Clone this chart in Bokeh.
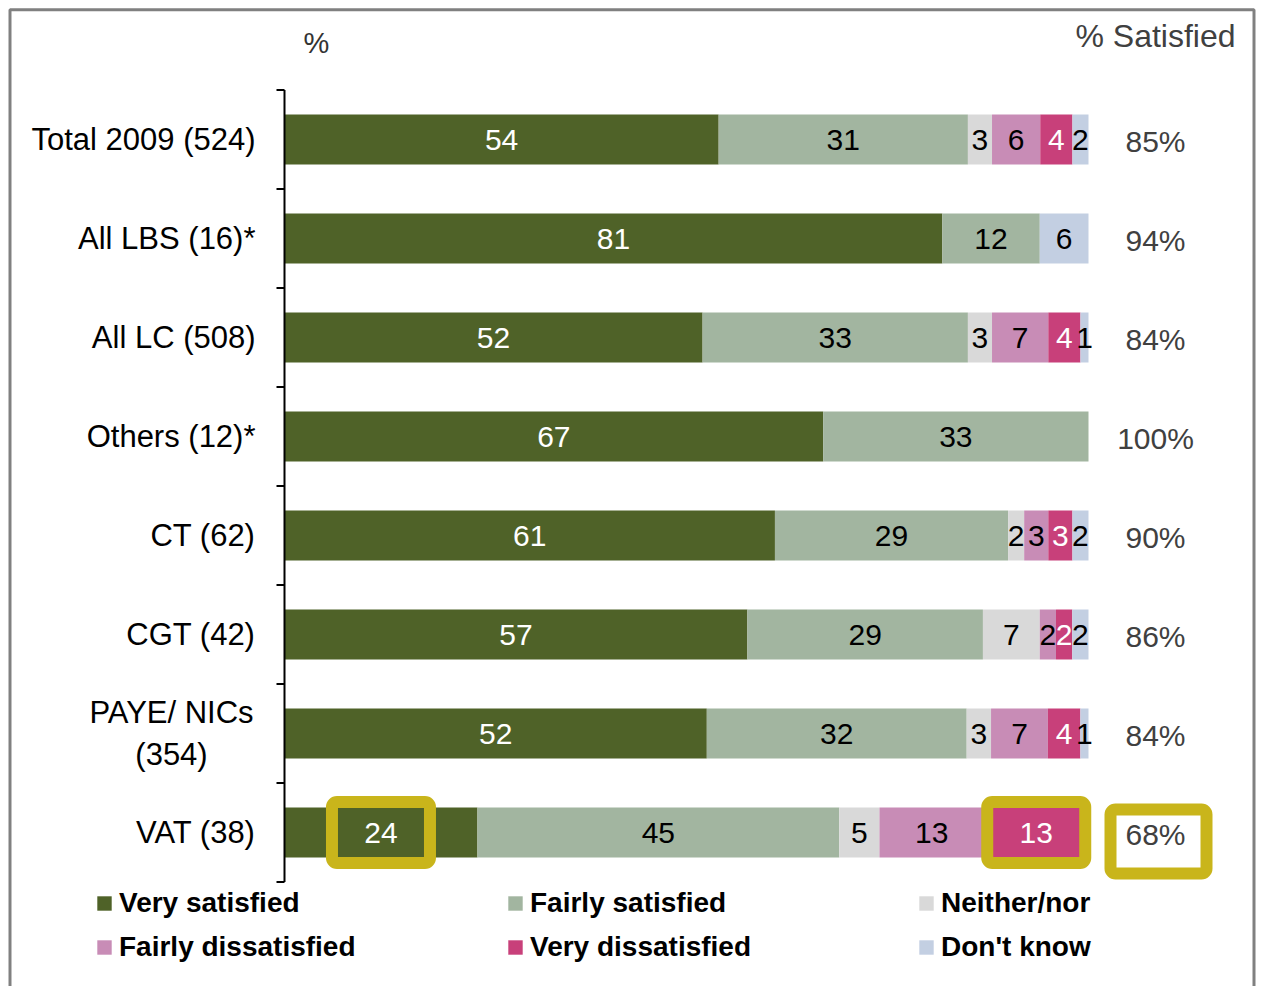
from bokeh.plotting import figure
from bokeh.models import Range1d, ColumnDataSource, Legend, LegendItem
from bokeh.core.properties import value
from bokeh.embed import file_html
from bokeh.resources import INLINE

# ---------------- data ----------------
categories = ["Total 2009 (524)", "All LBS (16)*", "All LC (508)", "Others (12)*",
              "CT (62)", "CGT (42)", "PAYE/ NICs\n(354)", "VAT (38)"]
very_satisfied = [54, 81, 52, 67, 61, 57, 52, 24]
fairly_satisfied = [31, 12, 33, 33, 29, 29, 32, 45]
neither_nor = [3, 0, 3, 0, 2, 7, 3, 5]
fairly_dissatisfied = [6, 0, 7, 0, 3, 2, 7, 13]
very_dissatisfied = [4, 0, 4, 0, 3, 2, 4, 13]
dont_know = [2, 6, 1, 0, 2, 2, 1, 0]
pct_satisfied = ["85%", "94%", "84%", "100%", "90%", "86%", "84%", "68%"]
series_names = ["Very satisfied", "Fairly satisfied", "Neither/nor",
                "Fairly dissatisfied", "Very dissatisfied", "Don't know"]
highlight_cells = [("VAT (38)", "Very satisfied"), ("VAT (38)", "Very dissatisfied")]
highlight_pct = ["VAT (38)"]

series_values = [very_satisfied, fairly_satisfied, neither_nor,
                 fairly_dissatisfied, very_dissatisfied, dont_know]

# ---------------- styles / layout ----------------
colors = ["#4F6228", "#A2B5A0", "#D9D9D9", "#C88CB6", "#C8407A", "#C3CFE2"]
label_colors = ["white", "black", "black", "black", "white", "black"]
FONT_NAME = "Liberation Sans"
FONT = value(FONT_NAME)
W, H = 1256, 986
AXIS_PX = 284      # left edge -> axis
FULL_PX = 804      # pixels for 100 %
ROW0_PX = 139      # top edge -> first row centre
ROW_PX = 99        # row pitch
BAR_PX = 50        # bar thickness
TICK_PX = 8
PCT_X_OFF = 67
PCT_Y_OFF = 2
HL_COLOR = "#C9B51B"
FRAME_L, FRAME_T, FRAME_R = 9.5, 9.3, 1253.5   # frame line centres (px)

px = FULL_PX / 100.0
n = len(categories)
ys = [-i for i in range(n)]

p = figure(width=W, height=H, output_backend="svg", toolbar_location=None,
           x_range=Range1d(-AXIS_PX / px, (W - AXIS_PX) / px),
           y_range=Range1d(-(H - ROW0_PX) / ROW_PX, ROW0_PX / ROW_PX),
           x_axis_type=None, y_axis_type=None, min_border=0)
p.grid.visible = False
p.outline_line_color = None
p.background_fill_color = "white"
p.border_fill_color = "white"

# stacked bars (each row normalised to 100)
totals = [sum(s[i] for s in series_values) for i in range(n)]
cum = [0.0] * n
legend_items = []
centers = {}
label_x, label_y, label_t, label_c = [], [], [], []
for k, (name, vals) in enumerate(zip(series_names, series_values)):
    left = [cum[i] for i in range(n)]
    right = [cum[i] + vals[i] * 100.0 / totals[i] for i in range(n)]
    cum = right
    src = ColumnDataSource(dict(y=ys, left=left, right=right))
    r = p.hbar(y="y", left="left", right="right", height=BAR_PX / ROW_PX,
               fill_color=colors[k], line_color=None, source=src)
    legend_items.append(LegendItem(label=name, renderers=[r]))
    for i in range(n):
        centers[(categories[i], name)] = ((left[i] + right[i]) / 2, ys[i])
        if vals[i] > 0:
            label_x.append((left[i] + right[i]) / 2)
            label_y.append(ys[i])
            label_t.append(str(vals[i]))
            label_c.append(label_colors[k])

# highlight boxes
for cat, ser in highlight_cells:
    cx, cy = centers[(cat, ser)]
    p.rect(x=[cx], y=[cy], width=98, height=61, width_units="screen", height_units="screen",
           fill_color=None, line_color=HL_COLOR, line_width=12, border_radius=5)
for cat in highlight_pct:
    i = categories.index(cat)
    p.rect(x=[100 + (PCT_X_OFF + 3) / px], y=[ys[i] - 9 / ROW_PX], width=96, height=64,
           width_units="screen", height_units="screen",
           fill_color="white", line_color=HL_COLOR, line_width=12, border_radius=5)

# value labels
p.text(x=label_x, y=label_y, text=label_t, text_color=label_c, text_font=FONT,
       text_font_size="30px", text_align="center", text_baseline="middle")

# axis line and ticks
p.segment(x0=[0], y0=[0.5], x1=[0], y1=[0.5 - n], line_color="black", line_width=2)
bounds = [0.5 - k for k in range(n + 1)]
p.segment(x0=[0] * len(bounds), y0=bounds, x1=[-TICK_PX / px] * len(bounds), y1=bounds,
          line_color="black", line_width=2)

# category labels
single = [(c, y) for c, y in zip(categories, ys) if "\n" not in c]
multi = [(c, y) for c, y in zip(categories, ys) if "\n" in c]
p.text(x=[0] * len(single), y=[y for _, y in single], text=[c for c, _ in single],
       x_offset=-29, text_align="right", text_baseline="middle", text_color="black",
       text_font=FONT, text_font_size="31px")
p.text(x=[0] * len(multi), y=[y for _, y in multi], text=[c for c, _ in multi],
       x_offset=-113, text_align="center", text_baseline="middle", text_color="black",
       text_font=FONT, text_font_size="31px", text_line_height=1.2)

# % satisfied column
p.text(x=[100] * n, y=ys, text=pct_satisfied, x_offset=PCT_X_OFF, y_offset=PCT_Y_OFF,
       text_align="center", text_baseline="middle", text_color="#404040",
       text_font=FONT, text_font_size="30px")

# headers
p.text(x=[0], y=[0], text=["%"], x_offset=32, y_offset=-97, text_align="center",
       text_baseline="middle", text_color="#333333", text_font=FONT, text_font_size="29px")
p.text(x=[100], y=[0], text=["% Satisfied"], x_offset=PCT_X_OFF, y_offset=-104,
       text_align="center", text_baseline="middle", text_color="#404040",
       text_font=FONT, text_font_size="32px")

# outer frame (left, top, right)
fl = (FRAME_L - AXIS_PX) / px
fr = (FRAME_R - AXIS_PX) / px
ft = (ROW0_PX - FRAME_T) / ROW_PX
fb = p.y_range.start
p.line(x=[fl, fl, fr, fr], y=[fb, ft, ft, fb], line_color="#808080", line_width=3)

legend = Legend(items=legend_items, location=(95, 22), orientation="horizontal", ncols=3,
                glyph_width=18, glyph_height=18, label_standoff=6, label_width=377,
                label_height=34, spacing=10, padding=0, margin=0,
                border_line_color=None, background_fill_alpha=0,
                label_text_font=FONT_NAME, label_text_font_size="28px",
                label_text_font_style="bold", label_text_color="black")
p.add_layout(legend)

open("out.html", "w").write(file_html(p, INLINE))
